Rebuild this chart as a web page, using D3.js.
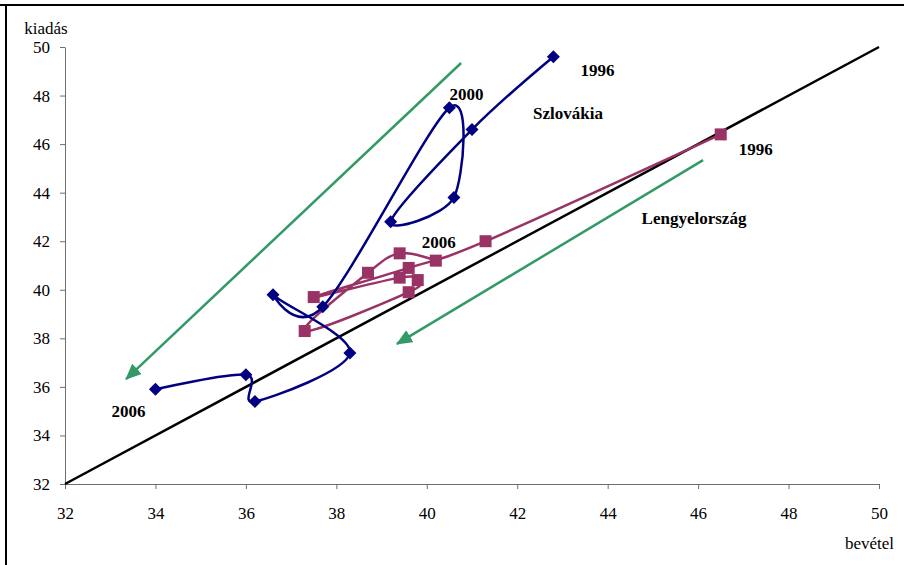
<!DOCTYPE html>
<html>
<head>
<meta charset="utf-8">
<script src="https://cdn.jsdelivr.net/npm/d3@7"></script>
<style>
  body { margin: 0; background: #fff; }
  svg, svg text { font-family: "Liberation Serif", "Times New Roman", "DejaVu Serif", serif; }
  .tick text { font-size: 17px; fill: #000; }
  .axis path, .axis line { stroke: #6e6e6e; }
  .lbl { font-size: 17px; font-weight: bold; }
</style>
</head>
<body>
<div id="chart"></div>
<script>
// years shown on both trajectories
const years = [1996, 1997, 1998, 1999, 2000, 2001, 2002, 2003, 2004, 2005, 2006];

// Slovakia: revenue (bevétel) and expenditure (kiadás), % of GDP
const svkRevenue     = [42.8, 41.0, 39.2, 40.6, 40.5, 37.7, 36.6, 38.3, 36.2, 36.0, 34.0];
const svkExpenditure = [49.6, 46.6, 42.8, 43.8, 47.5, 39.3, 39.8, 37.4, 35.4, 36.5, 35.9];

// Poland
const polRevenue     = [46.5, 41.3, 39.6, 37.5, 39.4, 39.8, 39.6, 37.3, 38.7, 39.4, 40.2];
const polExpenditure = [46.4, 42.0, 40.9, 39.7, 40.5, 40.4, 39.9, 38.3, 40.7, 41.5, 41.2];

const xTicks = [32, 34, 36, 38, 40, 42, 44, 46, 48, 50];
const yTicks = [32, 34, 36, 38, 40, 42, 44, 46, 48, 50];

const config = {
  width: 904,
  height: 565,
  margin: {top: 47, right: 25, bottom: 81, left: 65}
};

const serif = 'Liberation Serif, Times New Roman, serif';

const svg = d3.select('#chart').append('svg')
    .attr('width', config.width)
    .attr('height', config.height)
    .attr('font-family', serif);

// frame (only top and left edges are visible in the crop)
svg.append('line').attr('x1', 0).attr('x2', config.width).attr('y1', 5).attr('y2', 5)
    .attr('stroke', '#000').attr('stroke-width', 2);
svg.append('line').attr('x1', 6).attr('x2', 6).attr('y1', 4).attr('y2', config.height)
    .attr('stroke', '#000').attr('stroke-width', 2);

const x = d3.scaleLinear().domain([32, 50])
    .range([config.margin.left, config.width - config.margin.right]);
const y = d3.scaleLinear().domain([32, 50])
    .range([config.height - config.margin.bottom, config.margin.top]);

const xAxis = d3.axisBottom(x).tickValues(xTicks).tickSize(5).tickPadding(18).tickSizeOuter(0);
const yAxis = d3.axisLeft(y).tickValues(yTicks).tickSize(5).tickPadding(10).tickSizeOuter(0);

svg.append('g').attr('class', 'axis')
    .attr('transform', `translate(0,${y(32)})`)
    .call(xAxis);

svg.append('g').attr('class', 'axis')
    .attr('transform', `translate(${x(32)},0)`)
    .call(yAxis);

// d3 puts sans-serif 10px on the axis groups, undo that
svg.selectAll('.axis').attr('font-family', serif).attr('font-size', 17);

// axis titles
svg.append('text').attr('x', 46).attr('y', 34).attr('text-anchor', 'middle')
    .attr('font-size', 17).text('kiadás');
svg.append('text').attr('x', 894).attr('y', 549).attr('text-anchor', 'end')
    .attr('font-size', 17).text('bevétel');

// 45 degree balance line
svg.append('line')
    .attr('x1', x(32)).attr('y1', y(32))
    .attr('x2', x(50)).attr('y2', y(50))
    .attr('stroke', '#000').attr('stroke-width', 2.5);

// green trend arrows
const green = '#339966';
svg.append('defs').append('marker')
    .attr('id', 'head')
    .attr('markerUnits', 'userSpaceOnUse')
    .attr('viewBox', '0 0 16 14')
    .attr('refX', 15).attr('refY', 7)
    .attr('markerWidth', 16).attr('markerHeight', 14)
    .attr('orient', 'auto')
  .append('path')
    .attr('d', 'M0,0 L16,7 L0,14 Z')
    .attr('fill', green);

const arrows = [
  [[40.76, 49.34], [33.35, 36.32]],
  [[46.11, 45.34], [39.34, 37.77]]
];
svg.selectAll('.arrow')
    .data(arrows)
  .join('line')
    .attr('class', 'arrow')
    .attr('x1', d => x(d[0][0])).attr('y1', d => y(d[0][1]))
    .attr('x2', d => x(d[1][0])).attr('y2', d => y(d[1][1]))
    .attr('stroke', green).attr('stroke-width', 2.5)
    .attr('marker-end', 'url(#head)');

const line = d3.line()
    .x(d => x(d[0]))
    .y(d => y(d[1]))
    .curve(d3.curveCardinal.tension(0));

const svk = d3.zip(svkRevenue, svkExpenditure);
const pol = d3.zip(polRevenue, polExpenditure);

// Poland
svg.append('path').datum(pol)
    .attr('d', line).attr('fill', 'none')
    .attr('stroke', '#993366').attr('stroke-width', 2.5);
svg.selectAll('.pol')
    .data(pol)
  .join('rect')
    .attr('class', 'pol')
    .attr('x', d => x(d[0]) - 6).attr('y', d => y(d[1]) - 6)
    .attr('width', 12).attr('height', 12)
    .attr('fill', '#993366');

// Slovakia
svg.append('path').datum(svk)
    .attr('d', line).attr('fill', 'none')
    .attr('stroke', '#000080').attr('stroke-width', 2.5);
svg.selectAll('.svk')
    .data(svk)
  .join('path')
    .attr('class', 'svk')
    .attr('transform', d => `translate(${x(d[0])},${y(d[1])})`)
    .attr('d', 'M0,-6.5 L6.5,0 L0,6.5 L-6.5,0 Z')
    .attr('fill', '#000080');

// data labels
const lbl = (t, px, py) => svg.append('text').attr('class', 'lbl')
    .attr('x', px).attr('y', py).attr('text-anchor', 'middle')
    .attr('dominant-baseline', 'central').text(t);

lbl(years[0], x(svkRevenue[0]) + 44, y(svkExpenditure[0]) + 14);
lbl(years[4], x(svkRevenue[4]) + 17, y(svkExpenditure[4]) - 13);
lbl('Szlovákia', 568, 113);
lbl(years[0], x(polRevenue[0]) + 35, y(polExpenditure[0]) + 15);
lbl('Lengyelország', 694, 218);
lbl(years[10], x(polRevenue[10]) + 3, y(polExpenditure[10]) - 18);
lbl(years[10], x(svkRevenue[10]) - 27, y(svkExpenditure[10]) + 22);
</script>
</body>
</html>
